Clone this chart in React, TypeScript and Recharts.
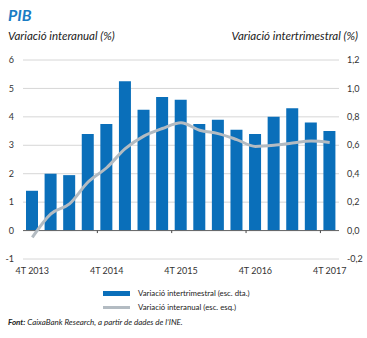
import { Bar, CartesianGrid, ComposedChart, Line, ReferenceLine, XAxis, YAxis } from 'recharts';

const quarters = [
    '4T 2013', '1T 2014', '2T 2014', '3T 2014', '4T 2014',
    '1T 2015', '2T 2015', '3T 2015', '4T 2015',
    '1T 2016', '2T 2016', '3T 2016', '4T 2016',
    '1T 2017', '2T 2017', '3T 2017', '4T 2017',
];

// right axis (esc. dta.)
const intertrimestral = [0.28, 0.40, 0.39, 0.68, 0.75, 1.05, 0.85, 0.94, 0.92, 0.75, 0.78, 0.71, 0.68, 0.80, 0.86, 0.76, 0.70];
// left axis (esc. esq.)
const interanual = [-0.24, 0.59, 0.94, 1.71, 2.21, 2.88, 3.32, 3.59, 3.79, 3.53, 3.41, 3.2, 2.96, 3.0, 3.08, 3.15, 3.1];

const leftTicks = [-1, 0, 1, 2, 3, 4, 5, 6];
const rightTicks = [-0.2, 0, 0.2, 0.4, 0.6, 0.8, 1.0, 1.2];

const data = quarters.map((q, i) => ({
    q,
    intertrimestral: intertrimestral[i],
    interanual: interanual[i],
}));

const BLUE = '#0a6fba';
const GREY = '#b3bbc2';
const FONT = 'Lato, "Open Sans", sans-serif';

const CHART_H = 280;
const TOP = 60;
const XAXIS_H = 21;
const TICK_MARGIN = 9;
const PLOT_H = CHART_H - TOP - XAXIS_H;
const PLOT_W = 367 - 23 - 28;

// label + small boundary mark on the zero line, like the original
const QuarterTick = (props: any) => {
    const { x, y, payload, index } = props;
    const band = PLOT_W / quarters.length;
    const zeroY = y - TICK_MARGIN - PLOT_H / 7;
    return (
        <g>
            {index > 0 && (
                <line x1={x - band / 2} x2={x - band / 2} y1={zeroY} y2={zeroY + 2.5} stroke="#444" strokeWidth={1} />
            )}
            <text x={x} y={y} dy="0.71em" textAnchor="middle" fontSize={9} fill="#333" fontFamily={FONT}>
                {payload.value}
            </text>
        </g>
    );
};

const App = () => {
    return (
        <div style={{ position: 'absolute', left: 0, top: 0, width: 367, height: 338, background: '#fff', fontFamily: FONT, color: '#222' }}>
            <div style={{ position: 'absolute', left: 8, top: 5, fontSize: 16, fontWeight: 700, fontStyle: 'italic', color: '#1a7cc4' }}>PIB</div>
            <div style={{ position: 'absolute', left: 8, top: 29, fontSize: 11.5, fontStyle: 'italic' }}>Variació interanual (%)</div>
            <div style={{ position: 'absolute', right: 9, top: 29, fontSize: 11.5, fontStyle: 'italic' }}>Variació intertrimestral (%)</div>

            <div style={{ position: 'absolute', left: 0, top: 0 }}>
                <ComposedChart width={367} height={CHART_H} data={data} margin={{ top: TOP, right: 0, left: 0, bottom: 0 }}>
                    <CartesianGrid vertical={false} stroke="#d6d6d6" yAxisId="left" />
                    <XAxis
                        dataKey="q"
                        interval={3}
                        tickLine={false}
                        axisLine={false}
                        tickSize={0}
                        tickMargin={TICK_MARGIN}
                        height={XAXIS_H}
                        tick={<QuarterTick />}
                    />
                    <YAxis
                        yAxisId="left"
                        width={23}
                        domain={[-1, 6]}
                        ticks={leftTicks}
                        tickLine={false}
                        axisLine={false}
                        tickSize={0}
                        tickMargin={9}
                        tick={{ fontSize: 9, fill: '#333', fontFamily: FONT }}
                    />
                    <YAxis
                        yAxisId="right"
                        orientation="right"
                        width={28}
                        domain={[-0.2, 1.2]}
                        ticks={rightTicks}
                        tickFormatter={(v: number) => v.toFixed(1).replace('.', ',')}
                        tickLine={false}
                        axisLine={false}
                        tickSize={0}
                        tickMargin={8}
                        tick={{ fontSize: 9, fill: '#333', fontFamily: FONT, textAnchor: 'start' }}
                    />
                    <Bar yAxisId="right" dataKey="intertrimestral" fill={BLUE} barSize={12} isAnimationActive={false} />
                    <ReferenceLine yAxisId="left" y={0} stroke="#666" strokeWidth={1} />
                    <Line
                        yAxisId="left"
                        dataKey="interanual"
                        type="monotone"
                        stroke={GREY}
                        strokeWidth={3}
                        dot={false}
                        isAnimationActive={false}
                    />
                </ComposedChart>
            </div>

            <div style={{ position: 'absolute', left: 103, top: 286, fontSize: 7.8, lineHeight: '14px' }}>
                <div style={{ display: 'flex', alignItems: 'center' }}>
                    <span style={{ width: 27, height: 5, background: BLUE, marginRight: 8 }} />
                    <span>Variació intertrimestral (esc. dta.)</span>
                </div>
                <div style={{ display: 'flex', alignItems: 'center' }}>
                    <span style={{ width: 27, height: 3, background: GREY, marginRight: 8 }} />
                    <span>Variació interanual (esc. esq.)</span>
                </div>
            </div>

            <div style={{ position: 'absolute', left: 8, top: 317, fontSize: 8, fontStyle: 'italic' }}>
                <b>Font:</b> CaixaBank Research, a partir de dades de l’INE.
            </div>
        </div>
    );
};

export default App;
